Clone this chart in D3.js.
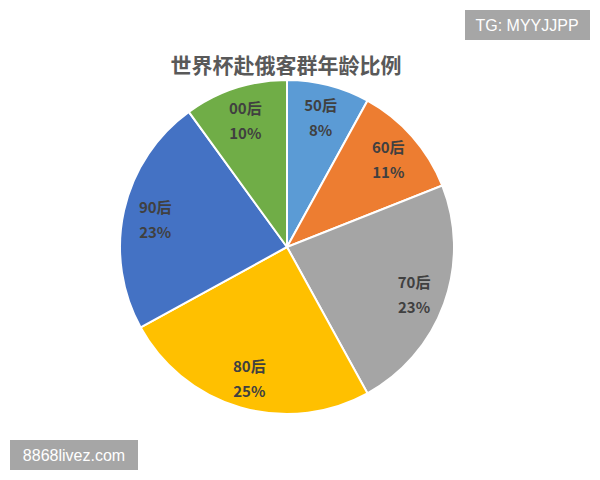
<!DOCTYPE html>
<html><head><meta charset="utf-8">
<script src="https://cdn.jsdelivr.net/npm/d3@7"></script>
<style>body{margin:0;background:#fff}</style>
</head><body>
<svg id="c" width="600" height="480"></svg>
<script>
const categories = ["50后","60后","70后","80后","90后","00后"];
const values = [8, 11, 23, 25, 23, 10];
const colors = ["#5B9BD5","#ED7D31","#A5A5A5","#FFC000","#4472C4","#70AD47"];
const title = "世界杯赴俄客群年龄比例";

const svg = d3.select("#c");
const cx = 287, cy = 247, R = 167;
const data = categories.map((c,i)=>({cat:c, val:values[i], color:colors[i]}));
const pie = d3.pie().value(d=>d.val).sort(null);
const arc = d3.arc().innerRadius(0).outerRadius(R);
const labelArc = d3.arc().innerRadius(135).outerRadius(135);
const g = svg.append("g").attr("transform",`translate(${cx},${cy})`);
const arcs = pie(data);
g.selectAll("path").data(arcs).join("path")
  .attr("d",arc).attr("fill",d=>d.data.color)
  .attr("stroke","#fff").attr("stroke-width",2);
const lab = g.selectAll("g.lab").data(arcs).join("g").attr("class","lab")
  .attr("transform",d=>`translate(${labelArc.centroid(d)})`);
const ff = "'Noto Sans CJK SC','Noto Sans',sans-serif";
lab.append("text").attr("y",-5).attr("text-anchor","middle")
  .attr("font-family",ff).attr("font-weight","bold").attr("font-size",15)
  .attr("fill","#404040").text(d=>d.data.cat);
lab.append("text").attr("y",20).attr("text-anchor","middle")
  .attr("font-family",ff).attr("font-weight","bold").attr("font-size",15)
  .attr("fill","#404040").text(d=>d.data.val+"%");

svg.append("text").attr("x",286).attr("y",73).attr("text-anchor","middle")
  .attr("font-family",ff).attr("font-weight","bold").attr("font-size",21)
  .attr("fill","#595959").text(title);

// watermarks
svg.append("rect").attr("x",465).attr("y",10).attr("width",125).attr("height",30).attr("fill","#a6a6a6");
svg.append("text").attr("x",527).attr("y",31).attr("text-anchor","middle")
  .attr("font-family","'Liberation Sans',Arial,sans-serif").attr("font-size",16).attr("fill","#fff").text("TG: MYYJJPP");
svg.append("rect").attr("x",10).attr("y",440).attr("width",128).attr("height",30).attr("fill","#a6a6a6");
svg.append("text").attr("x",74).attr("y",461).attr("text-anchor","middle")
  .attr("font-family","'Liberation Sans',Arial,sans-serif").attr("font-size",16).attr("fill","#fff").text("8868livez.com");
</script>
</body></html>
